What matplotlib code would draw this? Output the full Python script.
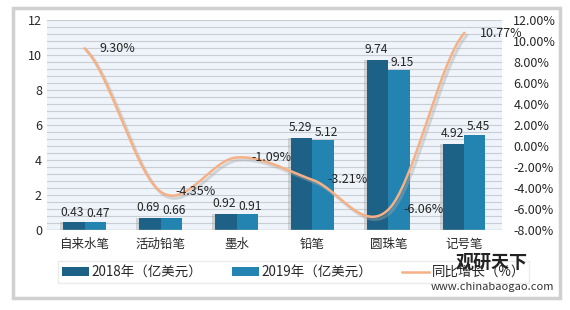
import numpy as np
import matplotlib
matplotlib.use("Agg")
import matplotlib.pyplot as plt
from matplotlib.patches import Rectangle

plt.rcParams['font.family'] = ['Noto Sans CJK SC', 'DejaVu Sans']

# Data
categories = ["自来水笔", "活动铅笔", "墨水", "铅笔", "圆珠笔", "记号笔"]
sales_2018 = [0.43, 0.69, 0.92, 5.29, 9.74, 4.92]
sales_2019 = [0.47, 0.66, 0.91, 5.12, 9.15, 5.45]
growth = [9.30, -4.35, -1.09, -3.21, -6.06, 10.77]
left_ticks = [0, 2, 4, 6, 8, 10, 12]
right_ticks = [-8, -6, -4, -2, 0, 2, 4, 6, 8, 10, 12]

c2018 = "#1d6186"
c2019 = "#2384b2"
cline = "#f5b185"
txt = "#262626"


# Smooth curve through the points (Catmull-Rom), like Excel's smoothed line
def smooth(xs, ys, n=40):
    xs = np.asarray(xs, float)
    ys = np.asarray(ys, float)
    px = np.concatenate([[2 * xs[0] - xs[1]], xs, [2 * xs[-1] - xs[-2]]])
    py = np.concatenate([[ys[0]], ys, [ys[-1]]])
    ox, oy = [], []
    for i in range(1, len(px) - 2):
        t = np.linspace(0, 1, n, endpoint=False)
        for arr, out in ((px, ox), (py, oy)):
            p0, p1, p2, p3 = arr[i - 1], arr[i], arr[i + 1], arr[i + 2]
            out.extend(0.5 * ((2 * p1) + (-p0 + p2) * t
                              + (2 * p0 - 5 * p1 + 4 * p2 - p3) * t ** 2
                              + (-p0 + 3 * p1 - 3 * p2 + p3) * t ** 3))
    ox.append(xs[-1])
    oy.append(ys[-1])
    return np.array(ox), np.array(oy)


fig = plt.figure(figsize=(5.7, 3.1), dpi=100)
fig.patch.set_facecolor("white")

# outer frame
fig.patches.append(Rectangle((0.022, 0.04), 0.96, 0.935, transform=fig.transFigure,
                             facecolor="white", edgecolor="#d0d0d0", linewidth=2.5, zorder=-10))

ax = fig.add_axes([0.082, 0.258, 0.799, 0.677])
ax.set_facecolor("#eef4f9")
x = np.arange(len(categories))
w = 0.28

for yv in np.arange(0, 12.01, 0.4):
    ax.axhline(yv, color="#c8ced4", linewidth=0.8, zorder=0)

# bar shadows
ax.bar(x - w / 2 - 0.04, sales_2018, w, color="#9a9a9a", alpha=0.35, zorder=1)
b1 = ax.bar(x - w / 2, sales_2018, w, color=c2018, zorder=2, label="2018年（亿美元）")
b2 = ax.bar(x + w / 2, sales_2019, w, color=c2019, zorder=2, label="2019年（亿美元）")

for xi, v in zip(x, sales_2018):
    ax.text(xi - w / 2 - 0.02, v + 0.2, f"{v:.2f}", ha="center", va="bottom", fontsize=8.7, color=txt, zorder=5)
for xi, v in zip(x, sales_2019):
    ax.text(xi + w / 2 + 0.04, v + 0.08, f"{v:.2f}", ha="center", va="bottom", fontsize=8.7, color=txt, zorder=5)

ax.set_xlim(-0.5, len(categories) - 0.5)
ax.set_ylim(0, 12)
ax.set_yticks(left_ticks)
ax.set_xticks(x)
ax.set_xticklabels(categories, fontsize=9.5, color=txt)
ax.tick_params(axis="both", length=0, colors=txt, labelsize=9)
ax.tick_params(axis="x", pad=6)
for s in ax.spines.values():
    s.set_visible(False)
ax.axhline(0, color="#bfbfbf", linewidth=1, zorder=3)

ax2 = ax.twinx()
ax2.set_ylim(-8, 12)
ax2.set_yticks(right_ticks)
ax2.set_yticklabels([f"{t:.2f}%" for t in right_ticks])
ax2.tick_params(axis="y", length=0, colors=txt, labelsize=9, pad=8)
for s in ax2.spines.values():
    s.set_visible(False)

sx, sy = smooth(x, growth)
ax2.plot(sx + 0.03, sy - 0.25, color="#a8a8a8", linewidth=2.2, alpha=0.4, zorder=3)
ln, = ax2.plot(sx, sy, color=cline, linewidth=1.8, zorder=4, label="同比增长（%）")
for xi, v in zip(x, growth):
    ax2.annotate(f"{v:.2f}%", (xi, v), xytext=(11, 0), textcoords="offset points",
                 ha="left", va="center", fontsize=9, color=txt, zorder=6)

leg = fig.legend(handles=[b1, b2, ln], loc="center", bbox_to_anchor=(0.515, 0.122),
                 ncol=3, fontsize=9.7, frameon=True, fancybox=False, edgecolor="#e6e6e6",
                 handlelength=2.0, handleheight=0.6, handletextpad=0.2,
                 columnspacing=2.2, borderpad=0.3)
leg.get_frame().set_linewidth(1.0)
for t in leg.get_texts():
    t.set_color(txt)

# watermark
fig.text(0.80, 0.135, "观研天下", fontsize=13, fontweight="bold", color="#222222", zorder=10)
fig.text(0.755, 0.065, "www.chinabaogao.com", fontsize=8, color="#333333", zorder=10)

fig.savefig("out.png", dpi=100)
